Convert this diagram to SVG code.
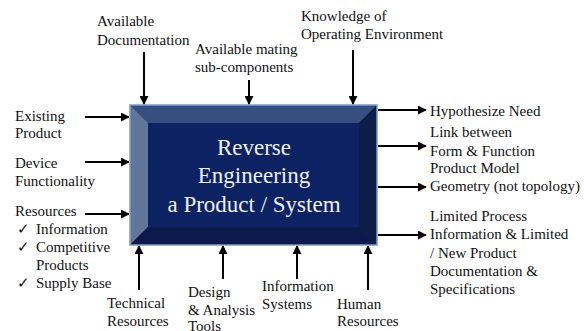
<svg xmlns="http://www.w3.org/2000/svg" width="584" height="331" viewBox="0 0 584 331" font-family="'Liberation Serif', 'Times New Roman', serif">
<style>
text{font-size:15px;fill:#111}
.c{fill:#eef1f8;font-size:23px;text-anchor:middle}
.a{stroke:#000;stroke-width:2;fill:none;marker-end:url(#ah)}
</style>
<defs>
<marker id="ah" viewBox="0 0 10 10" refX="9" refY="5" markerWidth="4.5" markerHeight="4.5" markerUnits="strokeWidth" orient="auto">
<path d="M0,0 L10,5 L0,10 z" fill="#000"/>
</marker>
</defs>
<rect width="584" height="331" fill="#fff"/>
<g id="connectors">
<line class="a" x1="144" y1="52" x2="144" y2="104"/>
<line class="a" x1="249" y1="80" x2="249" y2="104"/>
<line class="a" x1="353" y1="50" x2="353" y2="104"/>
<line class="a" x1="85" y1="117" x2="129" y2="117"/>
<line class="a" x1="85" y1="162" x2="129" y2="162"/>
<line class="a" x1="85" y1="214" x2="129" y2="214"/>
<line class="a" x1="378" y1="110" x2="426" y2="110"/>
<line class="a" x1="378" y1="146" x2="426" y2="146"/>
<line class="a" x1="378" y1="187" x2="426" y2="187"/>
<line class="a" x1="378" y1="235" x2="426" y2="235"/>
<line class="a" x1="139" y1="290" x2="139" y2="246"/>
<line class="a" x1="223" y1="279" x2="223" y2="246"/>
<line class="a" x1="297" y1="279" x2="297" y2="246"/>
<line class="a" x1="368" y1="290" x2="368" y2="246"/>
</g>
<g id="main">
<rect x="130" y="105" width="247" height="140" fill="#142a63"/>
<polygon points="130,105 377,105 359,123 148,123" fill="#364f7e"/>
<polygon points="130,105 148,123 148,227 130,245" fill="#5f7599"/>
<polygon points="377,105 377,245 359,227 359,123" fill="#0e1c48"/>
<polygon points="130,245 148,227 359,227 377,245" fill="#0b1a4a"/>
<rect x="148" y="123" width="211" height="104" fill="#0c2262"/>
<rect x="130" y="105" width="247" height="140" fill="none" stroke="#7d9cc6" stroke-width="1.5"/>
<text class="c" x="254" y="155">Reverse</text>
<text class="c" x="254" y="183">Engineering</text>
<text class="c" x="254" y="212">a Product / System</text>
</g>
<g id="top-labels">
<text x="97" y="26">Available</text>
<text x="97" y="45">Documentation</text>
<text x="195" y="54">Available mating</text>
<text x="195" y="72">sub-components</text>
<text x="301" y="21">Knowledge of</text>
<text x="301" y="39">Operating Environment</text>
</g>
<g id="left-labels">
<text x="15" y="121">Existing</text>
<text x="15" y="138">Product</text>
<text x="15" y="168">Device</text>
<text x="15" y="186">Functionality</text>
<text x="15" y="216">Resources</text>
<text x="17" y="234">✓</text>
<text x="36" y="234">Information</text>
<text x="17" y="252">✓</text>
<text x="36" y="252">Competitive</text>
<text x="36" y="270">Products</text>
<text x="17" y="288">✓</text>
<text x="36" y="288">Supply Base</text>
</g>
<g id="right-labels">
<text x="430" y="116">Hypothesize Need</text>
<text x="430" y="137">Link between</text>
<text x="430" y="156">Form &amp; Function</text>
<text x="430" y="173">Product Model</text>
<text x="430" y="191">Geometry (not topology)</text>
<text x="430" y="221">Limited Process</text>
<text x="430" y="239">Information &amp; Limited</text>
<text x="430" y="258">/ New Product</text>
<text x="430" y="276">Documentation &amp;</text>
<text x="430" y="294">Specifications</text>
</g>
<g id="bottom-labels">
<text x="107" y="308">Technical</text>
<text x="107" y="326">Resources</text>
<text x="188" y="297">Design</text>
<text x="188" y="315">&amp; Analysis</text>
<text x="188" y="331">Tools</text>
<text x="262" y="291">Information</text>
<text x="262" y="309">Systems</text>
<text x="337" y="309">Human</text>
<text x="337" y="326">Resources</text>
</g>
</svg>
